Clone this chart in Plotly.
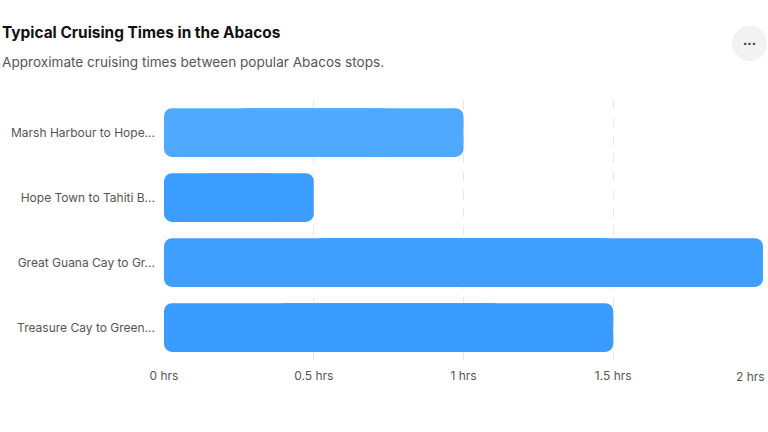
import plotly.graph_objects as go

routes = ["Marsh Harbour to Hope...", "Hope Town to Tahiti B...",
          "Great Guana Cay to Gr...", "Treasure Cay to Green..."]
hours = [1, 0.5, 2, 1.5]
bar_colors = ["#4fa9ff", "#3b9dff", "#3e9fff", "#3a9cff"]
tick_vals = [0, 0.5, 1, 1.5, 2]
tick_text = ["0 hrs", "0.5 hrs", "1 hrs", "1.5 hrs", "2 hrs"]

W, H = 768, 432
L, R, T, B = 164, 5, 100, 72

# Two overlapping halves so that both ends of each bar get rounded corners
fig = go.Figure()
fig.add_trace(go.Bar(
    x=[h * 0.75 for h in hours], base=[h * 0.25 for h in hours], y=routes,
    orientation="h", marker=dict(color=bar_colors, line=dict(width=0)), width=0.75,
))
fig.add_trace(go.Bar(
    x=[-h * 0.75 for h in hours], base=[h * 0.75 for h in hours], y=routes,
    orientation="h", marker=dict(color=bar_colors, line=dict(width=0)), width=0.75,
))

def px_x(p):
    return (p - L) / (W - L - R)

def px_y(p):
    return (H - B - p) / (H - T - B)

# last tick label would overflow the page; draw it right-aligned at its tick instead
shown_text = tick_text[:-1] + [""]

fig.update_layout(
    width=W, height=H,
    margin=dict(l=L, r=R, t=T, b=B),
    paper_bgcolor="white", plot_bgcolor="white",
    font=dict(family="Inter, Roboto, sans-serif", color="#555555", size=12),
    showlegend=False,
    barmode="overlay",
    barcornerradius=8,
    xaxis=dict(range=[0, 2], tickvals=tick_vals, ticktext=shown_text,
               showgrid=True, gridcolor="#e8e8e8", griddash="dash", gridwidth=1,
               zeroline=False, showline=False, ticks="", ticklabelstandoff=7,
               tickfont=dict(size=12, color="#555555")),
    yaxis=dict(autorange="reversed", showgrid=False, zeroline=False, showline=False,
               ticks="", ticklabelstandoff=8, tickfont=dict(size=12, color="#555555")),
    shapes=[dict(type="circle", xref="paper", yref="paper",
                 x0=px_x(732), x1=px_x(767), y0=px_y(61), y1=px_y(26),
                 fillcolor="#f2f2f2", line=dict(width=0), layer="below")],
    annotations=[
        dict(text="<b>Typical Cruising Times in the Abacos</b>", xref="paper", yref="paper",
             x=px_x(0), y=px_y(32), xanchor="left", yanchor="middle", showarrow=False,
             font=dict(size=15.4, color="#111111")),
        dict(text="Approximate cruising times between popular Abacos stops.", xref="paper",
             yref="paper", x=px_x(0), y=px_y(62), xanchor="left", yanchor="middle",
             showarrow=False, font=dict(size=13.6, color="#555555")),
        dict(text="<b>···</b>", xref="paper", yref="paper", x=px_x(749.5), y=px_y(43),
             xanchor="center", yanchor="middle", showarrow=False,
             font=dict(size=13, color="#333333")),
        dict(text=tick_text[-1], xref="x", yref="paper", x=tick_vals[-1], y=px_y(376),
             xanchor="right", yanchor="middle", xshift=4, showarrow=False,
             font=dict(size=12, color="#555555")),
    ],
)

fig.write_html("out.html", config={"displayModeBar": False},
               post_script="document.body.style.margin='0';")
